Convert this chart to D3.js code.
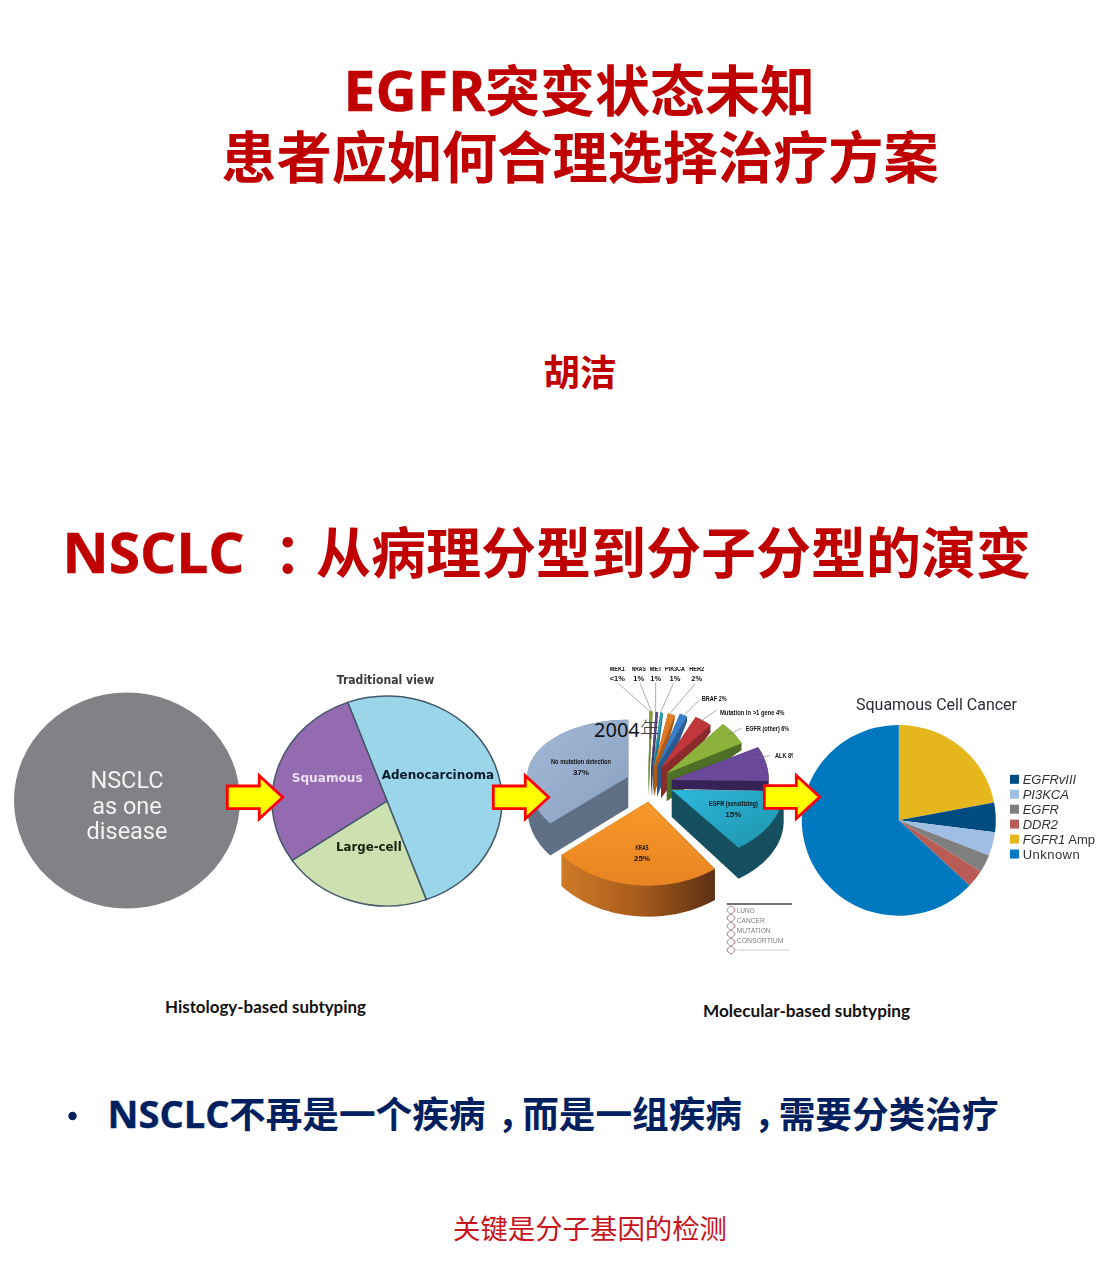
<!DOCTYPE html>
<html><head><meta charset="utf-8">
<style>html,body{margin:0;padding:0;background:#fff}svg{display:block}</style>
<script src="https://cdn.jsdelivr.net/npm/d3@7"></script>
</head><body><svg id="c" width="1100" height="1278"></svg>
<script>
// ---- data ----
const histologyLabels = ["Adenocarcinoma", "Large-cell", "Squamous"];
const histologyValues = [50, 21, 29];
const mutationLabels = ["MEK1","NRAS","MET","PIK3CA","HER2","BRAF","Mutation in >1 gene","EGFR (other)","ALK","EGFR (sensitizing)","KRAS","No mutation detection"];
const mutationValues = [1,1,1,1,2,2,4,6,8,15,25,37];
const mutationPercent = ["<1%","1%","1%","1%","2%","2%","4%","6%","8%","15%","25%","37%"];
const squamousLabels = ["FGFR1 Amp","EGFRvIII","PI3KCA","EGFR","DDR2","Unknown"];
const squamousValues = [22,5,4,3,3,63];
const legendOrder = ["EGFRvIII","PI3KCA","EGFR","DDR2","FGFR1 Amp","Unknown"];

// ---- styles ----
const RED="#c00000", NAVY="#002060";
const SANS='"Open Sans","Noto Sans CJK SC",sans-serif';
const CJK='"Noto Sans CJK SC",sans-serif';
const histologyColors=["#9bd5ea","#cce0b0","#946ab0"];
const squamousColors=["#e6b71e","#004b80","#a0bde3","#7f7f7f","#b85c55","#0078bf"];
const topColors=["#8aa03c","#8aa03c","#5f4a8b","#2aa0b0","#e07b28","#3a7fc8","#c0383a","#8db33c","#6a4a9a","url(#gCyan)","url(#gOrange)","url(#gGrey)"];
const wallColors=["#6c8030","#6c8030","#46366a","#1f7a88","#b05a18","#2a5a90","#8a2a2a","#4f6e28","#352457","#14505f","url(#gBrown)","#5f6f86"];
// slice geometry of the exploded 3D pie: tip x,y / radius x / radius up,down / wall depth / tip wall depth
const sliceGeom=[
 [649.3,768.3,35,57,57,3,28],[648.3,768.3,35,57,57,3,28],[651,768.3,38,57,57,3,28],[652.7,768.3,42,57,57,3,28],
 [654,766.7,58,55,55,4,30],[657,767,64,57,57,5,30],[661,768.3,74,58,58,7,30],[666.7,773.3,84,66,66,7,28],
 [671.7,780,97,72,72,10,9],[671.7,790,112,72,72,31,27],[648,801.7,112,84,84,31,30],[628.3,776.7,101,57,74,32,31]];

const svg=d3.select("#c");
const defs=svg.append("defs");
function grad(id,x2,y2,stops){const g=defs.append("linearGradient").attr("id",id).attr("x1",0).attr("y1",0).attr("x2",x2).attr("y2",y2);
 stops.forEach((c,i)=>g.append("stop").attr("offset",i/(stops.length-1)).attr("stop-color",c));}
grad("gCyan",1,1,["#2db8dc","#1f93ab"]);
grad("gOrange",0,1,["#f8982a","#e88422"]);
grad("gGrey",1,1,["#a3b9d8","#8aa0c0"]);
grad("gBrown",1,0,["#cf7a28","#a85c1c","#5c3012"]);
defs.append("filter").attr("id","soft").attr("x","-5%").attr("y","-5%").attr("width","110%").attr("height","110%")
  .append("feGaussianBlur").attr("stdDeviation",0.45);
defs.append("clipPath").attr("id","clip3d").append("rect").attr("x",520).attr("y",667).attr("width",273).attr("height",300);

function text(parent,s,x,y,size,fill,opt={}){
  const t=parent.append("text").attr("x",x).attr("y",y).attr("font-size",size).attr("fill",fill)
   .attr("font-family",opt.family||SANS).attr("font-weight",opt.weight||"normal").attr("text-anchor",opt.anchor||"start").text(s);
  if(opt.len) t.attr("textLength",opt.len).attr("lengthAdjust",opt.adjust||"spacingAndGlyphs");
  if(opt.style) t.attr("font-style",opt.style);
  if(opt.spacing) t.attr("letter-spacing",opt.spacing);
  if(opt.heavy) t.attr("stroke",fill).attr("stroke-width",opt.heavy);
  return t;
}

// ---- slide headings ----
text(svg,"EGFR",343.5,111,55,RED,{weight:700,len:142,heavy:0.5});
text(svg,"突变状态未知",485,111,55,RED,{weight:700,family:CJK});
text(svg,"患者应如何合理选择治疗方案",580,178,55.2,RED,{weight:700,anchor:"middle",family:CJK});
text(svg,"胡洁",580,386,36.5,RED,{weight:700,anchor:"middle",family:CJK});
text(svg,"NSCLC",62.5,573,55,RED,{weight:700,len:182,heavy:0.5});
text(svg,"：",274,573,55,RED,{weight:700,family:CJK});
text(svg,"从病理分型到分子分型的演变",316,573,55,RED,{weight:700,family:CJK});

// ---- disease circle ----
const g1=svg.append("g").attr("filter","url(#soft)");
g1.append("ellipse").attr("cx",127).attr("cy",800.5).attr("rx",113).attr("ry",108).attr("fill","#808285");
["NSCLC","as one","disease"].forEach((s,i)=>text(g1,s,127,[788,814,839][i],23.5,"#f2f2f2",{anchor:"middle",family:'Roboto,sans-serif'}));

// ---- histology pie ----
const g2=svg.append("g").attr("filter","url(#soft)");
const pieH=d3.pie().sort(null).startAngle(-20*Math.PI/180).endAngle(340*Math.PI/180)(histologyValues);
const arcH=d3.arc().innerRadius(0).outerRadius(105);
g2.append("g").attr("transform","translate(387,801) scale(1.095,1)")
  .selectAll("path").data(pieH).join("path").attr("d",arcH).attr("fill",(d,i)=>histologyColors[i])
  .attr("stroke","#44586a").attr("stroke-width",1.4);
const VF='"DejaVu Sans",sans-serif';
text(g2,"Traditional view",336.7,684,13,"#3a3a3a",{family:VF,weight:700,len:97.6});
text(g2,histologyLabels[0],381.7,779,13,"#0d1a2a",{family:VF,weight:700,len:112.3});
text(g2,histologyLabels[1],336,851,13,"#14200e",{family:VF,weight:700,len:65.7});
text(g2,histologyLabels[2],291.7,781.7,13,"#ecdff2",{family:VF,weight:700,len:71});

// ---- exploded 3D mutation pie ----
const g3=svg.append("g").attr("clip-path","url(#clip3d)").append("g").attr("filter","url(#soft)");
const pieM=d3.pie().sort(null).startAngle(0).endAngle(2*Math.PI)(mutationValues);
const lineP=d3.line();
function slicePoints(d,i){
  const [x,y,rx,ru,rd]=sliceGeom[i];
  return d3.range(0,25).map(k=>{const t=d.startAngle+(d.endAngle-d.startAngle)*k/24,c=Math.cos(t);
    return [x+rx*Math.sin(t),y-(c>0?ru:rd)*c];});
}
const leadersZ=[[85,70,180,155],[150,70,185,155],[197,68,197,155],[250,70,213,155],[315,72,240,160],[330,118,280,168],[380,150,330,185]];
const drawOrder=[11,0,1,2,3,4,5,6,7,8,9,10];
drawOrder.forEach(i=>{
  const d=pieM[i],[x,y,,,,dep,tipDep]=sliceGeom[i],pts=slicePoints(d,i);
  const hull=d3.polygonHull(pts.concat(pts.map(p=>[p[0],p[1]+dep]),[[x,y],[x,y+tipDep]]));
  g3.append("path").attr("d",lineP(hull)+"Z").attr("fill",wallColors[i]);
  g3.append("path").attr("d",lineP([[x,y],...pts])+"Z").attr("fill",topColors[i]);
});
// leaders
const leaders=g3.append("g").attr("stroke","#777").attr("stroke-width",0.6);
leadersZ.forEach(l=>leaders.append("line").attr("x1",590+l[0]/3).attr("y1",660+l[1]/3).attr("x2",590+l[2]/3).attr("y2",660+l[3]/3));
leaders.append("line").attr("x1",741.7).attr("y1",728).attr("x2",728).attr("y2",735);
leaders.append("line").attr("x1",770).attr("y1",755.7).attr("x2",756).attr("y2",757.7);
// labels
const NF='"Liberation Sans Narrow","Liberation Sans",sans-serif';
const small=(s,x,y,opt={})=>text(g3,s,x,y,opt.size||7.5,"#141414",Object.assign({family:NF,weight:700},opt));
const topLabelWidths=[15,14,12,20,15];
[617.3,638.7,655.7,675,696.7].forEach((x,i)=>{
  small(mutationLabels[i],x,671,{anchor:"middle",len:topLabelWidths[i],size:8});
  small(mutationPercent[i],x,681,{anchor:"middle",size:7.5});
});
small("BRAF 2%",701.7,701,{len:25});
small("Mutation in >1 gene 4%",720,714.5,{len:64.5});
small("EGFR (other) 6%",745.7,731,{len:43.5});
small("ALK 8%",775,758,{len:21});
small(mutationLabels[11],581,763.5,{anchor:"middle",len:60,size:8});
small("37%",581,774.5,{anchor:"middle",size:8});
small(mutationLabels[9],733.3,805.5,{anchor:"middle",len:49,size:8});
small("15%",733.3,816.5,{anchor:"middle",size:8});
small(mutationLabels[10],642,849.5,{anchor:"middle",size:8,len:13});
small("25%",642,860.5,{anchor:"middle",size:8});
// consortium logo
const logo=svg.append("g").attr("filter","url(#soft)");
logo.append("line").attr("x1",726.7).attr("x2",792).attr("y1",904).attr("y2",904).attr("stroke","#444").attr("stroke-width",1.3);
const logoWidths=[18,28,34,46.7];
["LUNG","CANCER","MUTATION","CONSORTIUM"].forEach((s,i)=>text(logo,s,736.7,[913,923,933,943][i],8,"#808080",{family:'"Liberation Sans",sans-serif',len:logoWidths[i]}));
const helixY=d3.range(906,955,4);
const helix=d3.line().curve(d3.curveNatural);
logo.append("path").attr("d",helix(helixY.map((y,i)=>[731+4*[0,1,0,-1][i%4],y]))).attr("fill","none").attr("stroke","#b56a6a").attr("stroke-width",1);
logo.append("path").attr("d",helix(helixY.map((y,i)=>[731-4*[0,1,0,-1][i%4],y]))).attr("fill","none").attr("stroke","#999").attr("stroke-width",1);
logo.append("line").attr("x1",737).attr("x2",790).attr("y1",950).attr("y2",950).attr("stroke","#c4c4c4").attr("stroke-width",0.8);

// "2004年" overlay
const yr=text(svg,"",594,736.5,20,"#111",{family:'"Noto Sans",sans-serif'});
yr.append("tspan").text("2004");
yr.append("tspan").attr("font-family",CJK).attr("font-weight",300).attr("fill","#444").text("年");

// ---- squamous pie ----
const g4=svg.append("g").attr("filter","url(#soft)");
const colorS=d3.scaleOrdinal(squamousLabels,squamousColors);
const pieS=d3.pie().sort(null)(squamousValues);
const arcS=d3.arc().innerRadius(0).outerRadius(95.4);
g4.append("g").attr("transform","translate(898.8,820.3) scale(1.017,1)").selectAll("path").data(pieS).join("path")
  .attr("d",arcS).attr("fill",(d,i)=>colorS(squamousLabels[i]));
text(g4,"Squamous Cell Cancer",856,710,17,"#2c2c3a",{family:'Roboto,sans-serif',len:161});
const LF='"Liberation Sans",sans-serif';
const legendY=d3.scalePoint(legendOrder,[779.3,854]);
legendOrder.forEach(name=>{
  const y=legendY(name);
  g4.append("rect").attr("x",1010).attr("y",y-4.5).attr("width",9).attr("height",9).attr("fill",colorS(name));
  const t=text(g4,"",1022.7,y+4.5,13,"#333",{family:LF});
  if(name==="FGFR1 Amp"){t.append("tspan").attr("font-style","italic").text("FGFR1");t.append("tspan").text(" Amp");}
  else if(name==="Unknown"){t.text(name).attr("textLength",57);}
  else{t.attr("font-style","italic").text(name);}
});

// ---- arrows ----
const arrowShape=[[0,-11.3],[32,-11.3],[32,-21.5],[55.4,0],[32,21.5],[32,11.3],[0,11.3]];
[[227.3,797.3],[493.3,797.3],[764.3,797]].forEach(([x,y])=>{
  svg.append("path").attr("d",lineP(arrowShape.map(p=>[x+p[0],y+p[1]]))+"Z").attr("fill","#ffff00").attr("stroke","#ff0000").attr("stroke-width",2.8);
});

// ---- captions ----
text(svg,"Histology-based subtyping",165,1013,17,"#111",{family:'Lato,sans-serif',weight:700,len:201});
text(svg,"Molecular-based subtyping",703,1017,17,"#111",{family:'Lato,sans-serif',weight:700,len:207});

// ---- bottom text ----
svg.append("circle").attr("cx",72.5).attr("cy",1116).attr("r",4.2).attr("fill",NAVY);
text(svg,"NSCLC",107.5,1128,37,NAVY,{weight:700,len:122,heavy:0.4});
const bt=text(svg,"",229,1128,36.65,NAVY,{weight:700,family:CJK});
[["不再是一个疾病",0],["，",12],["而是一组疾病",-12],["，",12],["需要分类治疗",-12]].forEach(([s,dx])=>bt.append("tspan").attr("dx",dx).text(s));
text(svg,"关键是分子基因的检测",590,1239,27.4,"#c8141c",{anchor:"middle",family:CJK});
</script></body></html>
